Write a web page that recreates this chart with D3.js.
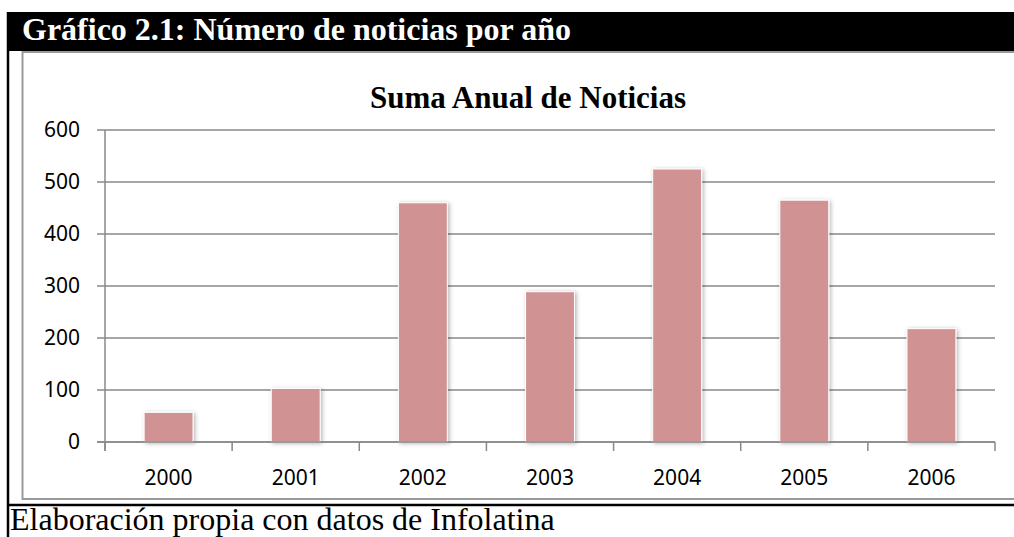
<!DOCTYPE html>
<html>
<head>
<meta charset="utf-8">
<script src="https://cdn.jsdelivr.net/npm/d3@7"></script>
<style>
  body { margin: 0; background: #fff; }
  svg { display: block; }
</style>
</head>
<body>
<svg id="field"></svg>
<script>
const years = ['2000', '2001', '2002', '2003', '2004', '2005', '2006']
const counts = [57, 103, 460, 289, 525, 465, 218]
const yTicks = [0, 100, 200, 300, 400, 500, 600]

const heading = 'Gráfico 2.1: Número de noticias por año'
const chartTitle = 'Suma Anual de Noticias'
const caption = 'Elaboración propia con datos de Infolatina'

let width = 1014
let height = 537
let field = d3.select('#field').attr('width', width).attr('height', height)

let x = d3.scaleBand()
  .domain(years)
  .range([105, 995])
  .paddingInner(1.6 / 2.6)
  .paddingOuter(0.8 / 2.6)

let y = d3.scaleLinear()
  .domain([0, 600])
  .range([442, 130])

// shadow for the bars
let defs = field.append('defs')
defs.append('filter')
  .attr('id', 'shade')
  .attr('x', '-20%').attr('y', '-20%')
  .attr('width', '140%').attr('height', '140%')
  .append('feDropShadow')
  .attr('dx', 1.5).attr('dy', 1)
  .attr('stdDeviation', 2)
  .attr('flood-color', '#000')
  .attr('flood-opacity', 0.3)

// black heading bar
field.append('rect')
  .attr('x', 7).attr('y', 12)
  .attr('width', width - 7).attr('height', 39)
  .attr('fill', '#000')

field.append('text')
  .text(heading)
  .attr('x', 22).attr('y', 40)
  .attr('fill', '#fff')
  .attr('style', 'font-family: "Liberation Serif", "Times New Roman", serif; font-size: 32px; font-weight: bold')

// left black rule and bottom black rule
field.append('line')
  .attr('x1', 8).attr('x2', 8)
  .attr('y1', 12).attr('y2', height)
  .attr('stroke', '#000').attr('stroke-width', 2.5)

field.append('line')
  .attr('x1', 7).attr('x2', width)
  .attr('y1', 505).attr('y2', 505)
  .attr('stroke', '#000').attr('stroke-width', 2.5)

// grey chart frame
field.append('rect')
  .attr('x', 22.5).attr('y', 52)
  .attr('width', width + 20).attr('height', 447)
  .attr('fill', '#fff')
  .attr('stroke', '#9a9a9a').attr('stroke-width', 2)

field.append('text')
  .text(chartTitle)
  .attr('x', 528).attr('y', 108)
  .attr('text-anchor', 'middle')
  .attr('style', 'font-family: "Liberation Serif", "Times New Roman", serif; font-size: 31px; font-weight: bold')

let axisFont = 'font-family: "Noto Sans", sans-serif; font-size: 21px'

// grid lines and y ticks
field.append('g')
  .selectAll('line')
  .data(yTicks)
  .enter()
  .append('line')
  .attr('x1', 97).attr('x2', 995)
  .attr('y1', d => y(d)).attr('y2', d => y(d))
  .attr('stroke', '#888').attr('stroke-width', 1.5)

field.append('g')
  .selectAll('text')
  .data(yTicks)
  .enter()
  .append('text')
  .text(d => d)
  .attr('x', 80)
  .attr('y', d => y(d) + 7)
  .attr('text-anchor', 'end')
  .attr('style', axisFont)

// y axis line
field.append('line')
  .attr('x1', 105).attr('x2', 105)
  .attr('y1', y(600)).attr('y2', y(0) + 9)
  .attr('stroke', '#888').attr('stroke-width', 1.5)

// bars
field.append('g')
  .selectAll('rect')
  .data(years)
  .enter()
  .append('rect')
  .attr('x', d => x(d))
  .attr('y', (d, i) => y(counts[i]))
  .attr('width', x.bandwidth())
  .attr('height', (d, i) => y(0) - y(counts[i]))
  .attr('fill', '#d09292')
  .attr('stroke', '#fff')
  .attr('stroke-width', 1)
  .attr('filter', 'url(#shade)')

// x axis line and boundary ticks
field.append('line')
  .attr('x1', 97).attr('x2', 995)
  .attr('y1', y(0)).attr('y2', y(0))
  .attr('stroke', '#888').attr('stroke-width', 1.5)

field.append('g')
  .selectAll('line')
  .data(d3.range(years.length + 1))
  .enter()
  .append('line')
  .attr('x1', i => x.range()[0] + i * x.step())
  .attr('x2', i => x.range()[0] + i * x.step())
  .attr('y1', y(0)).attr('y2', y(0) + 9)
  .attr('stroke', '#888').attr('stroke-width', 1.5)

field.append('g')
  .selectAll('text')
  .data(years)
  .enter()
  .append('text')
  .text(d => d)
  .attr('x', d => x(d) + x.bandwidth() / 2)
  .attr('y', 485)
  .attr('text-anchor', 'middle')
  .attr('style', axisFont)

// caption
field.append('text')
  .text(caption)
  .attr('x', 10).attr('y', 530)
  .attr('style', 'font-family: "Liberation Serif", "Times New Roman", serif; font-size: 32px')
</script>
</body>
</html>
